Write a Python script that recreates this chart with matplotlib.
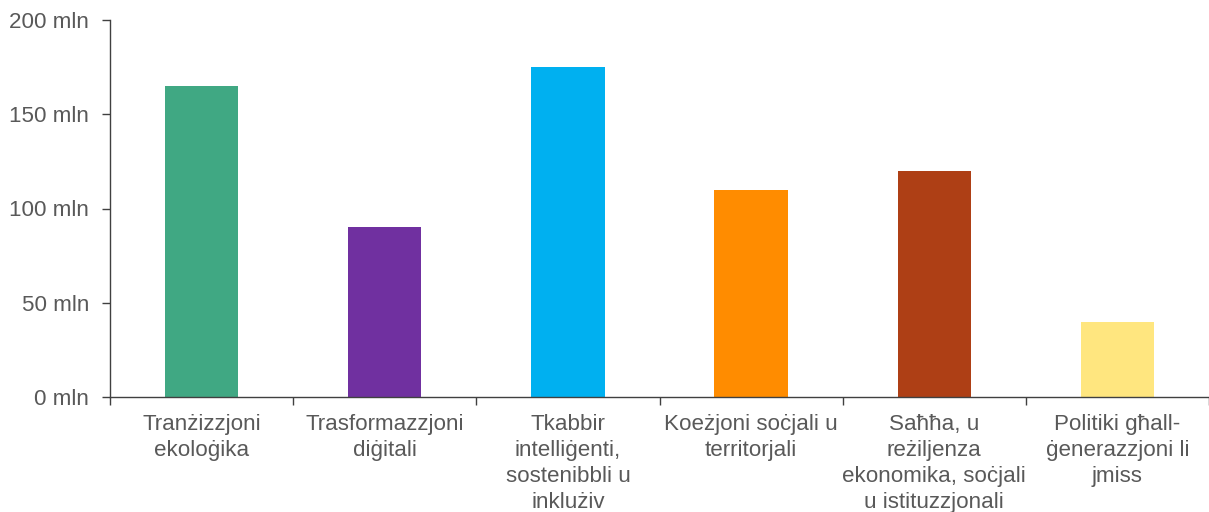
import matplotlib.pyplot as plt
import numpy as np

categories = ["Tranżizzjoni\nekoloġika", "Trasformazzjoni\ndiġitali",
              "Tkabbir\nintelliġenti,\nsostenibbli u\ninklużiv",
              "Koeżjoni soċjali u\nterritorjali",
              "Saħħa, u\nreżiljenza\nekonomika, soċjali\nu istituzzjonali",
              "Politiki għall-\nġenerazzjoni li\njmiss"]
values = [165, 90, 175, 110, 120, 40]
colors = ['#40A883', '#7030A0', '#00B0F0', '#FF8C00', '#AE3F15', '#FFE67F']
yticks = [0, 50, 100, 150, 200]

plt.rcParams['font.family'] = ['Liberation Sans', 'DejaVu Sans']
fig = plt.figure(figsize=(12.09, 5.12), dpi=100)
ax = fig.add_axes([110/1209, 115/512, 1 - 110/1209, 377/512])

x = np.arange(len(values))
ax.bar(x, values, width=0.4, color=colors)
ax.set_xlim(-0.5, len(values) - 0.5)
ax.set_ylim(0, 200)
ax.set_yticks(yticks)
ax.set_yticklabels([f"{v} mln" for v in yticks])
ax.set_xticks(x)
ax.set_xticklabels(categories, linespacing=1.31)
ax.set_xticks(np.arange(len(values) + 1) - 0.5, minor=True)
ax.tick_params(axis='x', which='major', length=0, pad=12)
ax.tick_params(axis='x', which='minor', length=6, width=1, color='#404040')
ax.tick_params(axis='y', length=6, width=1, color='#404040', pad=9)
ax.tick_params(labelsize=16.1, labelcolor='#595959')
for s in ['top', 'right']:
    ax.spines[s].set_visible(False)
for s in ['left', 'bottom']:
    ax.spines[s].set_color('#404040')
    ax.spines[s].set_linewidth(1)

plt.savefig('out.png', dpi=100)
plt.close()
